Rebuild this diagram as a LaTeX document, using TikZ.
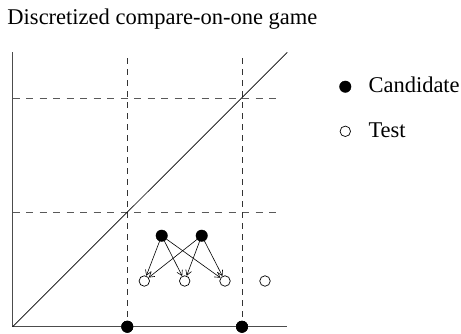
\documentclass[tikz,border=0pt]{standalone}
\usepackage{fontspec}
\setmainfont{Liberation Serif}
\usetikzlibrary{arrows.meta}
\begin{document}
\begin{tikzpicture}[x=1pt,y=-1pt,
  axisline/.style={draw=black!70,line width=1.1pt},
  hdash/.style={draw=black!65,line width=0.9pt,dash pattern=on 7pt off 6.5pt},
  vdash/.style={draw=black!80,line width=0.9pt,dash pattern=on 6pt off 5pt},
  cand/.style={circle,fill=black,draw=black,inner sep=0pt,minimum size=11.5pt},
  testnode/.style={circle,fill=white,draw=black,line width=0.7pt,inner sep=0pt,minimum size=10.5pt},
  link/.style={draw=black,line width=0.6pt,-{Straight Barb[length=5pt,width=6pt]}},
  lbl/.style={font=\fontsize{22.5}{27}\selectfont,inner sep=0pt}]
\useasboundingbox (0,0) rectangle (461,333);
% title
\node[lbl,anchor=base west] (title) at (7.3,24) {Discretized compare-on-one game};
% axes
\coordinate (O) at (12.7,326.7);
\coordinate (ytop) at (12.7,52.3);
\coordinate (xend) at (287.3,326.7);
\coordinate (dtop) at (287.3,52.3);
% dashed grid
\coordinate (h1a) at (12.7,98);
\coordinate (h1b) at (281.7,98);
\coordinate (h2a) at (12.7,212);
\coordinate (h2b) at (281.7,212);
\coordinate (v1a) at (127.3,58.3);
\coordinate (v2a) at (242,58.3);
\draw[hdash] (h1a) -- (h1b);
\draw[hdash] (h2a) -- (h2b);
\node[cand] (b1) at (127.3,326.7) {};
\node[cand] (b2) at (242,326.7) {};
\draw[vdash] (v1a) -- (b1.center);
\draw[vdash] (v2a) -- (b2.center);
\draw[axisline] (ytop) -- (O) -- (xend);
\draw[black,line width=0.7pt] (O) -- (dtop);
\node[cand] at (b1) {};
\node[cand] at (b2) {};
% candidates and tests
\node[cand] (c1) at (161.7,235.7) {};
\node[cand] (c2) at (201.7,235.7) {};
\node[testnode] (t1) at (144.3,281) {};
\node[testnode] (t2) at (184.7,281) {};
\node[testnode] (t3) at (225,281) {};
\node[testnode] (t4) at (265,281) {};
\foreach \c in {c1,c2}{
  \foreach \t in {t1,t2,t3}{
    \draw[link] (\c) -- (\t);
  }
}
% legend
\node[cand] (lc) at (345.3,86.7) {};
\node[testnode] (lt) at (345.3,131.3) {};
\node[lbl,anchor=base west] (lctext) at (368.3,92.3) {Candidate};
\node[lbl,anchor=base west] (lttext) at (368.3,137.7) {Test};
\end{tikzpicture}
\end{document}
